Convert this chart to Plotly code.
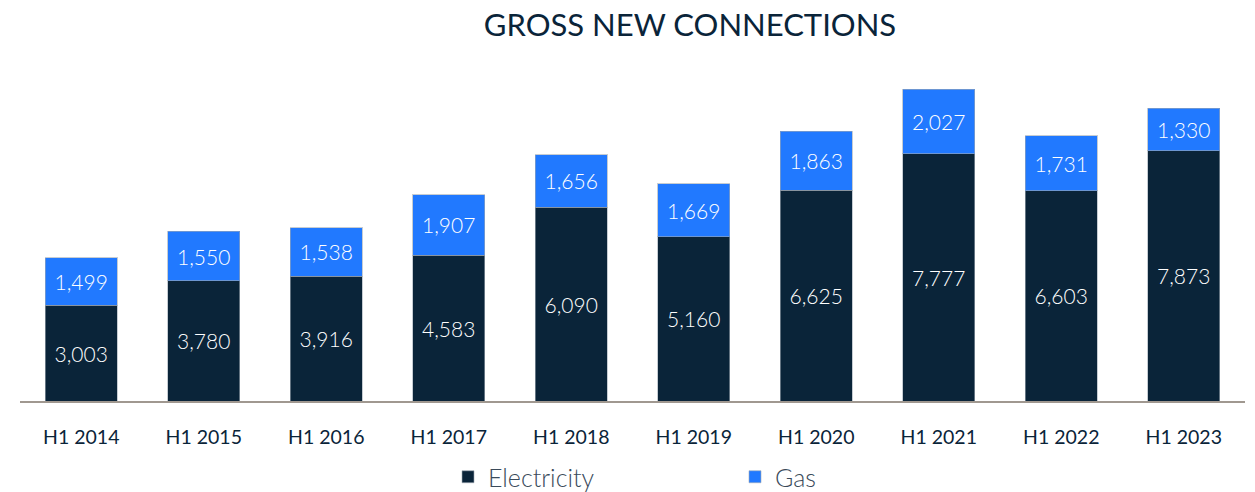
import plotly.graph_objects as go

categories = ["H1 2014", "H1 2015", "H1 2016", "H1 2017", "H1 2018",
              "H1 2019", "H1 2020", "H1 2021", "H1 2022", "H1 2023"]
electricity = [3003, 3780, 3916, 4583, 6090, 5160, 6625, 7777, 6603, 7873]
gas = [1499, 1550, 1538, 1907, 1656, 1669, 1863, 2027, 1731, 1330]

NAVY = "#0a2439"
BLUE = "#2179ff"
FONT = "Lato"

fig = go.Figure()
fig.add_trace(go.Bar(
    x=categories, y=electricity, name="Electricity",
    marker=dict(color=NAVY, line=dict(color="rgba(160,170,180,0.6)", width=1)),
    text=[f"{v:,}" for v in electricity], textposition="inside",
    insidetextanchor="middle",
    textfont=dict(color="white", size=21, family=FONT, weight=300),
))
fig.add_trace(go.Bar(
    x=categories, y=gas, name="Gas",
    marker=dict(color=BLUE, line=dict(color="rgba(160,170,180,0.6)", width=1)),
    text=[f"{v:,}" for v in gas], textposition="inside",
    insidetextanchor="middle",
    textfont=dict(color="white", size=21, family=FONT, weight=300),
))

fig.update_layout(
    barmode="stack",
    bargap=0.41,
    width=1255, height=492,
    margin=dict(l=20, r=10, t=67, b=91, autoexpand=False),
    paper_bgcolor="white", plot_bgcolor="white",
    title=dict(text="GROSS NEW CONNECTIONS", x=690 / 1255, xanchor="center",
               y=1 - 25 / 492, yanchor="middle",
               font=dict(family=FONT, size=31, color=NAVY)),
    font=dict(family=FONT, color=NAVY),
    legend=dict(orientation="h", traceorder="normal",
                xref="container", x=448 / 1255, xanchor="left",
                yref="container", y=1 - 477 / 492, yanchor="middle",
                font=dict(size=25, color="#3a4a5a", family=FONT, weight=300),
                entrywidth=242, entrywidthmode="pixels",
                itemclick=False),
    xaxis=dict(showline=True, linecolor="#a09890", linewidth=2,
               ticks="", tickfont=dict(size=19.5, color=NAVY, family=FONT),
               ticklabelstandoff=18, automargin=False),
    yaxis=dict(visible=False, range=[0, 10500], automargin=False),
)

fig.write_html("out.html", config={"displayModeBar": False},
               post_script="document.body.style.margin='0';")
